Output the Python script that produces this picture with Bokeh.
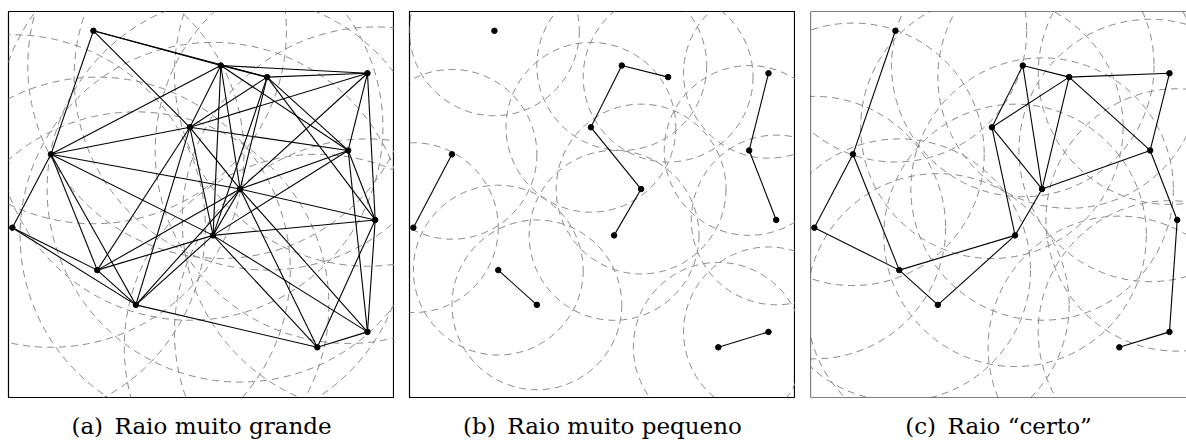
import math
from bokeh.plotting import figure
from bokeh.layouts import row
from bokeh.models import Span, ColumnDataSource, Range1d, Title
from bokeh.embed import file_html
from bokeh.resources import INLINE

# Node positions (same point set in all three panels), panel spans 0..100
node_x = [22, 55, 67, 93, 47, 11, 88, 60, 1, 95, 53, 23, 33, 80, 93]
node_y = [95, 86, 83, 84, 70, 63, 64, 54, 44, 46, 42, 33, 24, 13, 17]

# communication radius used in each panel
radii = [50, 22, 34]
captions = ["(a)\u2002Raio muito grande",
            "(b)\u2002Raio muito pequeno",
            "(c)\u2002Raio \u201ccerto\u201d"]

CIRCLE_COLOR = "#8a8a8a"
FONT = "DejaVu Serif"


def edges_for(r):
    x0, y0, x1, y1 = [], [], [], []
    n = len(node_x)
    for i in range(n):
        for j in range(i + 1, n):
            d = math.hypot(node_x[i] - node_x[j], node_y[i] - node_y[j])
            if d < r:
                x0.append(node_x[i]); y0.append(node_y[i])
                x1.append(node_x[j]); y1.append(node_y[j])
    return dict(x0=x0, y0=y0, x1=x1, y1=y1)


def make_panel(r, caption, frame_w, x_end, border_left, full_outline=True):
    p = figure(frame_width=frame_w, frame_height=386,
               x_range=Range1d(0, x_end), y_range=Range1d(0, 100),
               x_axis_location=None, y_axis_location=None,
               output_backend="svg", toolbar_location=None,
               min_border_left=border_left, min_border_right=0,
               min_border_top=11, min_border_bottom=50)
    p.grid.visible = False
    p.background_fill_color = "white"
    p.border_fill_color = "white"
    nodes = ColumnDataSource(dict(x=node_x, y=node_y))
    p.circle(x="x", y="y", radius=r, source=nodes, fill_color=None,
             line_color=CIRCLE_COLOR, line_dash="7 5", line_width=1)
    p.segment(x0="x0", y0="y0", x1="x1", y1="y1",
              source=ColumnDataSource(edges_for(r)),
              line_color="black", line_width=1.1)
    p.scatter(x="x", y="y", source=nodes, size=5.5, color="black")
    if full_outline:
        p.outline_line_color = "black"
        p.outline_line_width = 1.2
    else:
        p.outline_line_color = None
        p.add_layout(Span(location=0, dimension="height", line_color="black", line_width=1.2))
        p.add_layout(Span(location=100, dimension="width", line_color="black", line_width=1.2))
        p.add_layout(Span(location=0, dimension="width", line_color="black", line_width=1.2))
    p.add_layout(Title(text=caption, align="center", vertical_align="bottom",
                       text_font=FONT, text_font_size="23px",
                       text_font_style="normal", text_color="black",
                       standoff=26), "below")
    return p


pa = make_panel(radii[0], captions[0], 386, 100, 8)
pb = make_panel(radii[1], captions[1], 386, 100, 15)
pc = make_panel(radii[2], captions[2], 376, 376 / 3.86, 15, full_outline=False)

layout = row(pa, pb, pc)
open("out.html", "w").write(file_html(layout, INLINE))
